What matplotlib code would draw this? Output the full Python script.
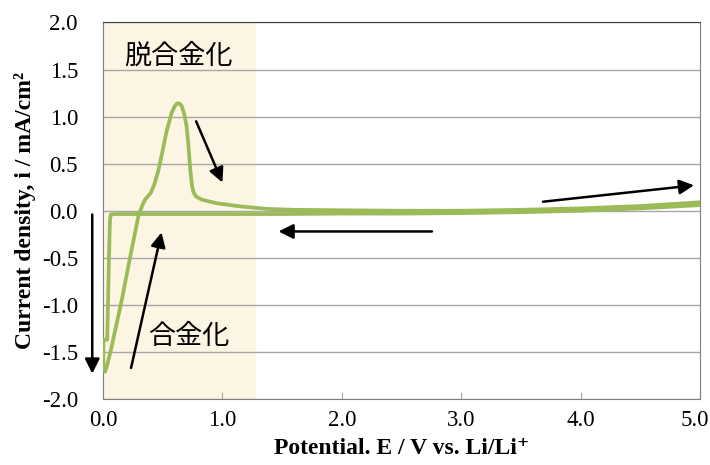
import numpy as np
import matplotlib.pyplot as plt
from matplotlib.transforms import ScaledTranslation

# cathodic scan (5.0 V -> 0 V)
e_cath = [5.0, 4.5, 4.0, 3.5, 3.0, 2.5, 2.0, 1.5, 1.0, 0.5, 0.2, 0.1, 0.065, 0.06,
          0.057, 0.05, 0.045, 0.04, 0.035, 0.01, 0.003, 0.003, 0.008, 0.017]
i_cath = [0.06, 0.025, 0.0, -0.015, -0.025, -0.03, -0.03, -0.035, -0.035, -0.035, -0.035,
          -0.035, -0.04, -0.08, -0.15, -0.5, -0.8, -1.1, -1.37, -1.37, -1.4, -1.62,
          -1.69, -1.71]
# anodic scan (0 V -> 5.0 V)
e_anod = [0.035, 0.073, 0.157, 0.226, 0.296, 0.33, 0.352, 0.40, 0.43, 0.46, 0.49, 0.53,
          0.575, 0.60, 0.62, 0.64, 0.66, 0.68, 0.70, 0.715, 0.73, 0.745, 0.76, 0.78,
          0.83, 0.95, 1.15, 1.37, 1.6, 2.0, 2.5, 3.0, 3.5, 4.0, 4.5, 5.0]
i_anod = [-1.64, -1.44, -0.95, -0.50, -0.06, 0.06, 0.117, 0.19, 0.28, 0.41, 0.58, 0.83,
          1.04, 1.11, 1.14, 1.14, 1.11, 1.03, 0.90, 0.70, 0.45, 0.27, 0.19, 0.15,
          0.117, 0.08, 0.046, 0.02, 0.01, 0.005, 0.0, 0.0, 0.01, 0.025, 0.05, 0.09]

x_ticks = [0, 1, 2, 3, 4, 5]
y_ticks = [-2.0, -1.5, -1.0, -0.5, 0.0, 0.5, 1.0, 1.5, 2.0]
dealloy_end = 1.28

serif = ['Liberation Serif', 'DejaVu Serif']
jp = ['Noto Sans CJK JP', 'DejaVu Sans']

fig = plt.figure(figsize=(7.1, 4.65), dpi=100)
ax = fig.add_axes([103 / 710, 66 / 465, 597 / 710, 376.5 / 465])

ax.axvspan(0, dealloy_end, color='#fdf5e3', zorder=0, lw=0)
for y in y_ticks:
    ax.axhline(y, color='#a6a6a6', lw=1.0, zorder=1)

e_all = e_cath + e_anod
i_all = i_cath + i_anod
ax.plot(e_all, i_all, color='#9bbb59', lw=2.7, zorder=3,
        solid_joinstyle='round', solid_capstyle='round')

ax.set_xlim(0, 5)
ax.set_ylim(-2, 2)
ax.set_xticks(x_ticks)
ax.set_xticklabels([f'{v:.1f}' for v in x_ticks], family=serif, fontsize=16.5)
ax.set_yticks(y_ticks)
ax.set_yticklabels([f'{v:.1f}' for v in y_ticks], family=serif, fontsize=16.5)
ax.tick_params(axis='x', direction='in', length=5, color='#a6a6a6', pad=8)
ax.tick_params(axis='y', length=0, pad=18)
# last x label sits flush with the figure edge
last = ax.get_xticklabels()[-1]
last.set_transform(last.get_transform() + ScaledTranslation(-5 / 100, 0, fig.dpi_scale_trans))
for s in ['left', 'bottom', 'right']:
    ax.spines[s].set_color('#808080')
ax.spines['top'].set_color('#404040')

ax.set_xlabel('Potential. E / V vs. Li/Li⁺', family=serif, fontsize=17,
              fontweight='bold', labelpad=5)
ax.set_ylabel('Current density, i / mA/cm²', family=serif, fontsize=17,
              fontweight='bold', labelpad=4)

ax.text(0.63, 1.64, '脱合金化', family=jp, fontsize=19.5, ha='center', va='center')
ax.text(0.72, -1.34, '合金化', family=jp, fontsize=19.5, ha='center', va='center')

arrows = [((-0.09, -0.04), (-0.09, -1.73)),
          ((0.235, -1.67), (0.49, -0.23)),
          ((0.78, 0.95), (1.0, 0.3)),
          ((2.755, -0.22), (1.47, -0.22)),
          ((3.685, 0.096), (4.95, 0.27))]
for tail, head in arrows:
    ax.annotate('', xy=head, xytext=tail, annotation_clip=False,
                arrowprops=dict(arrowstyle='-|>', color='black', lw=1.8,
                                mutation_scale=22, shrinkA=0, shrinkB=0))

plt.savefig('out.png', dpi=100)
